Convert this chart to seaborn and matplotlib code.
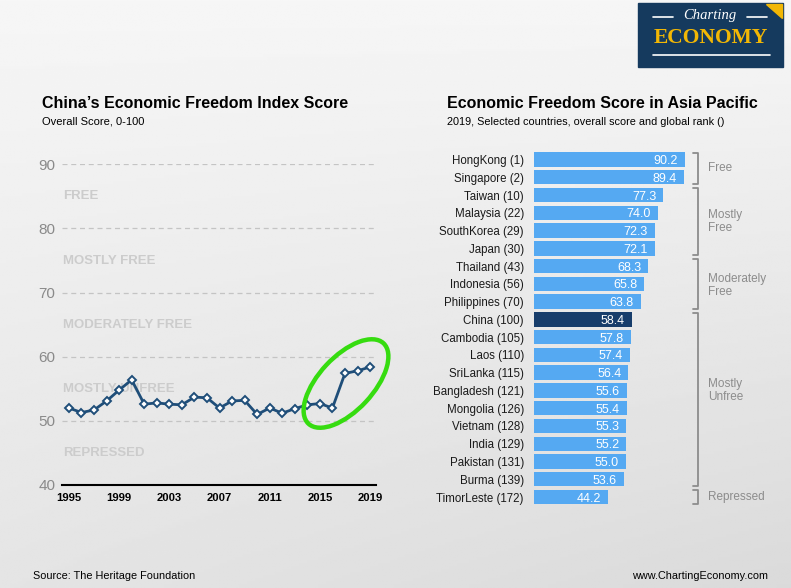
import numpy as np
import pandas as pd
import matplotlib.pyplot as plt
import seaborn as sns
from matplotlib.patches import Ellipse, Rectangle, Polygon

# China: overall score per year
years = list(range(1995, 2020))
china_score = [52.0, 51.3, 51.7, 53.1, 54.8, 56.4, 52.6, 52.8, 52.6, 52.5,
               53.7, 53.6, 52.0, 53.1, 53.2, 51.0, 52.0, 51.2, 51.9, 52.5,
               52.7, 52.0, 57.4, 57.8, 58.4]

# Asia Pacific 2019
countries = ['HongKong', 'Singapore', 'Taiwan', 'Malaysia', 'SouthKorea', 'Japan',
             'Thailand', 'Indonesia', 'Philippines', 'China', 'Cambodia', 'Laos',
             'SriLanka', 'Bangladesh', 'Mongolia', 'Vietnam', 'India', 'Pakistan',
             'Burma', 'TimorLeste']
ranks = [1, 2, 10, 22, 29, 30, 43, 56, 70, 100, 105, 110, 115, 121, 126, 128,
         129, 131, 139, 172]
scores_2019 = [90.2, 89.4, 77.3, 74.0, 72.3, 72.1, 68.3, 65.8, 63.8, 58.4, 57.8,
               57.4, 56.4, 55.6, 55.4, 55.3, 55.2, 55.0, 53.6, 44.2]

bands = ['FREE', 'MOSTLY FREE', 'MODERATELY FREE', 'MOSTLY UNFREE', 'REPRESSED']
band_mid = [85, 75, 65, 55, 45]

groups = ['Free', 'Mostly\nFree', 'Moderately\nFree', 'Mostly\nUnfree', 'Repressed']
group_first = [0, 2, 6, 9, 19]
group_last = [1, 5, 8, 18, 19]
group_label_row = [0.5, 3.5, 7.1, 13.0, 19.0]

navy = '#1f4e79'
light_blue = '#55a9f2'
dark_bar = '#173d6b'
grey_txt = '#8c8c8c'

sns.set_theme(style='white')
plt.rcParams['font.family'] = ['Liberation Sans', 'DejaVu Sans']

fig = plt.figure(figsize=(7.91, 5.88), dpi=100)

# background gradient
bg = fig.add_axes([0, 0, 1, 1], zorder=-2)
yy, xx = np.mgrid[0:1:200j, 0:1:200j]
grad = 0.965 - 0.07 * yy - 0.04 * xx * yy
bg.imshow(grad, cmap='gray', vmin=0, vmax=1, aspect='auto', extent=[0, 1, 0, 1])
bg.axis('off')

# ---------------- left: China line ----------------
axl = fig.add_axes([62.3 / 791, 1 - 485 / 588, 313.4 / 791, 320.7 / 588])
axl.set_facecolor('none')
df_line = pd.DataFrame({'Year': years, 'Score': china_score})
for b, m in zip(bands, band_mid):
    axl.text(0.003, m, b, transform=axl.get_yaxis_transform(), fontsize=9.5,
             fontweight='bold', color='#cccccc', va='center', ha='left', zorder=1)
for g in [50, 60, 70, 80, 90]:
    axl.axhline(g, color='#c4c4c4', lw=0.9, ls=(0, (4, 3)), zorder=0)
sns.lineplot(data=df_line, x='Year', y='Score', ax=axl, color=navy, lw=2,
             marker='D', markersize=4, markerfacecolor='white',
             markeredgecolor=navy, markeredgewidth=1.4, zorder=3)
axl.set_xlim(1994.47, 2019.45)
axl.set_ylim(40, 90)
axl.set_xticks(list(range(1995, 2020, 4)))
axl.set_yticks([40, 50, 60, 70, 80, 90])
axl.tick_params(axis='x', length=0, pad=6, labelsize=8.1, labelcolor='black')
axl.tick_params(axis='y', length=0, pad=5, labelsize=11, labelcolor='#8a8a8a')
for t in axl.get_xticklabels():
    t.set_fontweight('bold')
axl.set_xlabel('')
axl.set_ylabel('')
for s in ['top', 'right', 'left']:
    axl.spines[s].set_visible(False)
axl.spines['bottom'].set_color('black')
axl.spines['bottom'].set_linewidth(1.5)

# ---------------- right: bars ----------------
axr = fig.add_axes([533.5 / 791, 1 - 505.9 / 588, 168 / 791, 355.3 / 588])
axr.set_facecolor('none')
labels = [f'{c} ({r})' for c, r in zip(countries, ranks)]
df_bar = pd.DataFrame({'Label': labels, 'Score': scores_2019})
pal = {lab: (dark_bar if lab.startswith('China') else light_blue) for lab in labels}
sns.barplot(data=df_bar, x='Score', y='Label', hue='Label', palette=pal,
            legend=False, width=0.81, ax=axr, orient='h', saturation=1,
            linewidth=0, edgecolor='none')
for i, v in enumerate(scores_2019):
    axr.annotate(f'{v:.1f}', xy=(v, i), xytext=(-5, 0), textcoords='offset points',
                 ha='right', va='center_baseline', color='white', fontsize=9)
axr.set_xlim(0, 100)
axr.set_ylim(19.5, -0.5)
axr.set_xticks([])
axr.tick_params(axis='y', length=0, pad=7, labelsize=8.3, labelcolor='#1a1a1a')
axr.set_xlabel('')
axr.set_ylabel('')
sns.despine(ax=axr, left=True, bottom=True)

# brackets
for g, a, b, r in zip(groups, group_first, group_last, group_label_row):
    top, bot = a - 0.37, b + 0.4
    axr.plot([94.9, 97.9, 97.9, 94.9], [top, top, bot, bot], color='#8c8c8c',
             lw=1.3, clip_on=False)
    axr.text(103.9, r, g, ha='left', va='center', fontsize=8.5, color=grey_txt,
             linespacing=1.15, clip_on=False)

# ---------------- overlay: titles, logo, highlight ----------------
ov = fig.add_axes([0, 0, 1, 1], zorder=5)
ov.set_xlim(0, 791)
ov.set_ylim(588, 0)
ov.axis('off')
ov.patch.set_alpha(0)

ov.text(42, 103, 'China\u2019s Economic Freedom Index Score', fontsize=11.5,
        fontweight='bold', color='black', va='center', ha='left')
ov.text(42, 122, 'Overall Score, 0-100', fontsize=8, color='black', va='center')
ov.text(447, 103, 'Economic Freedom Score in Asia Pacific', fontsize=11.5,
        fontweight='bold', color='black', va='center', ha='left')
ov.text(447, 122, '2019, Selected countries, overall score and global rank ()',
        fontsize=7.8, color='black', va='center')
ov.text(33, 576, 'Source: The Heritage Foundation', fontsize=7.8, color='black',
        va='center', ha='left')
ov.text(768, 576, 'www.ChartingEconomy.com', fontsize=7.8, color='black',
        va='center', ha='right')

# green highlight ellipse
ov.add_patch(Ellipse((346, 383.5), 110, 54, angle=-47, fill=False,
                     edgecolor='#36dc10', lw=3.2))

# logo
ov.add_patch(Rectangle((638, 3), 145, 64, color='#153a5e'))
ov.add_patch(Polygon([[766, 4], [782, 4], [782, 18]], closed=True, color='#f2b705'))
ov.plot([653, 673], [17, 17], color='white', lw=1.2)
ov.plot([747, 767], [17, 17], color='white', lw=1.2)
ov.text(710, 16, 'Charting', fontsize=10.5, style='italic', color='white',
        ha='center', va='center', family=['Liberation Serif', 'DejaVu Serif'])
ov.text(711, 38, 'ECONOMY', fontsize=15.5, fontweight='bold', color='#f2b705',
        ha='center', va='center', family=['Liberation Serif', 'DejaVu Serif'])
ov.plot([653, 770], [55, 55], color='white', lw=1.2)

fig.savefig('out.png', dpi=100)
